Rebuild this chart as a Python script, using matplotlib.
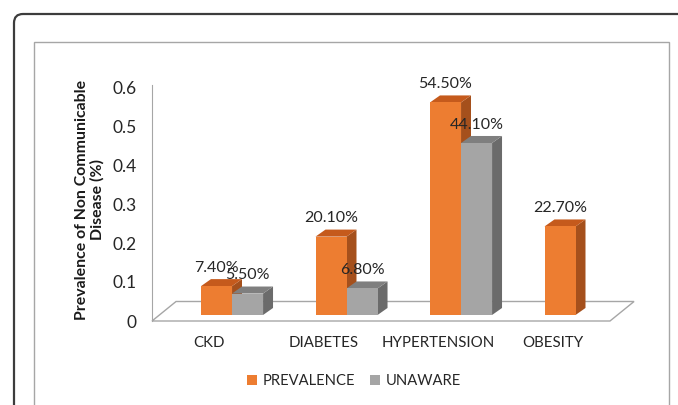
import matplotlib
matplotlib.use('Agg')
import matplotlib.pyplot as plt
from matplotlib.patches import Polygon, Rectangle, FancyBboxPatch, Patch

# data
categories = ['CKD', 'DIABETES', 'HYPERTENSION', 'OBESITY']
prevalence = [0.074, 0.201, 0.545, 0.227]
unaware = [0.055, 0.068, 0.441, None]
series_names = ['PREVALENCE', 'UNAWARE']
y_ticks = [0, 0.1, 0.2, 0.3, 0.4, 0.5, 0.6]

# colours: front, top, side
orange = ('#ED7D31', '#C55A1C', '#A5501C')
grey = ('#A5A5A5', '#7F7F7F', '#6B6B6B')

W, H = 678, 405
plt.rcParams['font.family'] = ['Lato', 'DejaVu Sans']
text_col = '#262626'

fig = plt.figure(figsize=(W / 100, H / 100), dpi=100)

# background frames (pixel coordinates)
bg = fig.add_axes([0, 0, 1, 1])
bg.set_xlim(0, W)
bg.set_ylim(H, 0)
bg.axis('off')
bg.add_patch(FancyBboxPatch((14, 14), 720, 450, boxstyle='round,pad=0,rounding_size=9',
                            fc='white', ec='#3c3c3c', lw=1.6))
bg.add_patch(Rectangle((34, 42), 635, 420, fc='white', ec='#A6A6A6', lw=1))

# main axes
ax = fig.add_axes([152 / W, 1 - 321 / H, (610 - 152) / W, (321 - 87) / H])
ax.patch.set_alpha(0)
ax.set_xlim(-0.5, len(categories) - 0.5)
ax.set_ylim(0, 0.6)
for s in ['top', 'right', 'bottom']:
    ax.spines[s].set_visible(False)
ax.spines['left'].set_color('#A6A6A6')
ax.spines['left'].set_bounds(0, 0.605)

# floor
fdx, fdy = 0.21, 0.05
x_lo, x_hi = ax.get_xlim()
floor = [(x_lo, 0), (x_hi, 0), (x_hi + fdx, fdy), (x_lo + fdx, fdy)]
ax.add_patch(Polygon(floor, closed=True, fc='white', ec='#A6A6A6', lw=1, clip_on=False, zorder=1))

# 3d bars
bar_w = 0.271
shift = -0.072
base = 0.0154
dx, dy = 0.087, 0.018

for s, (vals, cols) in enumerate([(prevalence, orange), (unaware, grey)]):
    for i, v in enumerate(vals):
        if v is None:
            continue
        x0 = i + shift + s * bar_w
        x1 = x0 + bar_w
        y0 = base
        y1 = base + v
        ax.add_patch(Polygon([(x1, y0), (x1 + dx, y0 + dy), (x1 + dx, y1 + dy), (x1, y1)],
                             closed=True, fc=cols[2], ec='none', clip_on=False, zorder=2))
        ax.add_patch(Polygon([(x0, y1), (x1, y1), (x1 + dx, y1 + dy), (x0 + dx, y1 + dy)],
                             closed=True, fc=cols[1], ec='none', clip_on=False, zorder=2))
        ax.add_patch(Rectangle((x0, y0), bar_w, v, fc=cols[0], ec='none', clip_on=False, zorder=2))
        ax.annotate(f'{v * 100:.2f}%', (x0 + bar_w / 2, y1 + dy), xytext=(0, 8),
                    textcoords='offset points', ha='center', va='center',
                    fontsize=11.5, color=text_col, zorder=5)

ax.set_yticks(y_ticks)
ax.set_yticklabels([f'{t:g}' for t in y_ticks])
ax.set_xticks(range(len(categories)))
ax.set_xticklabels(categories)
ax.tick_params(axis='y', length=0, pad=11, labelsize=12.5, labelcolor=text_col)
ax.tick_params(axis='x', length=0, pad=11, labelsize=10.8, labelcolor=text_col)

fig.text(90 / W, 1 - 200 / H, 'Prevalence of Non Communicable\nDisease (%)', rotation=90,
         ha='center', va='center', multialignment='center', fontsize=11.4, fontweight='bold',
         color='#1a1a1a', linespacing=1.1)

handles = [Patch(fc=orange[0], ec='none'), Patch(fc=grey[0], ec='none')]
fig.legend(handles, series_names, loc='center', bbox_to_anchor=(354 / W, 1 - 381 / H), ncol=2,
           frameon=False, fontsize=10.6, handlelength=0.7, handleheight=0.7, handletextpad=0.4,
           columnspacing=1.0, labelcolor=text_col)

fig.savefig('out.png', dpi=100)
